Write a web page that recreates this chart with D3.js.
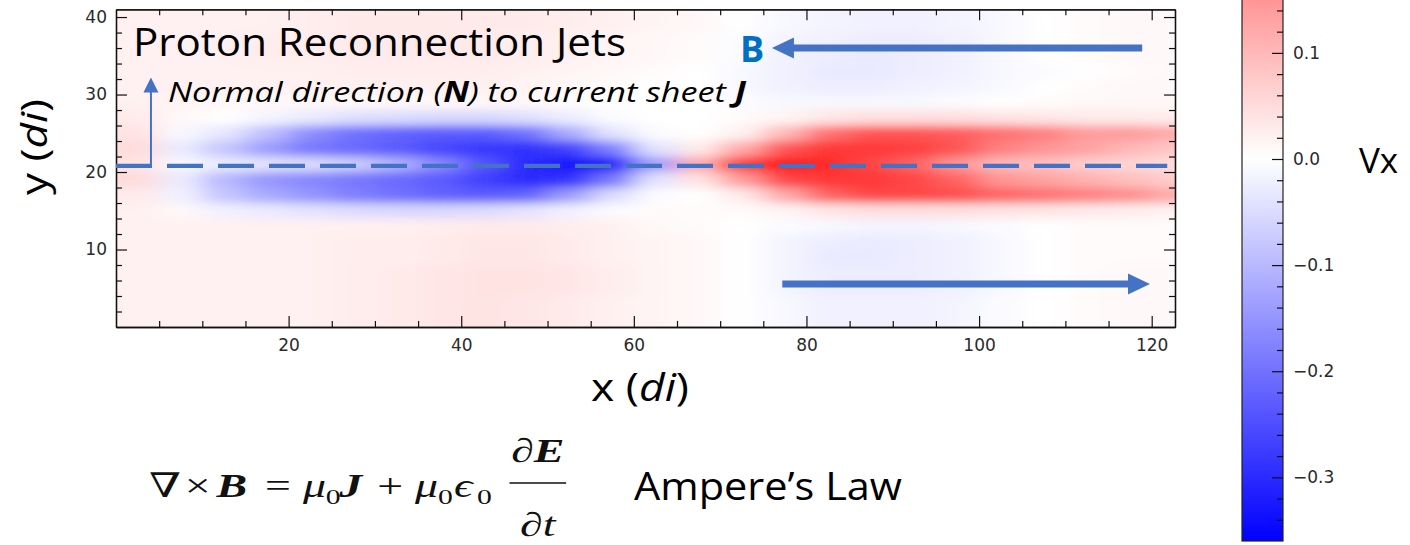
<!DOCTYPE html>
<html>
<head>
<meta charset="utf-8">
<script src="https://cdn.jsdelivr.net/npm/d3@7"></script>
<style>
  body { margin: 0; background: #fff; }
  svg { display: block; }
</style>
</head>
<body>
<div id="chart"></div>
<script>
// Vx field on a coarse grid (di units), top row first
const xCells = [2.5, 7.5, 12.5, 17.5, 22.5, 27.5, 32.5, 37.5, 42.5, 47.5, 52.5, 57.5, 62.5,
  67.5, 72.5, 77.5, 82.5, 87.5, 92.5, 97.5, 102.5, 107.5, 112.5, 117.5, 122.5];
const yCells = [41, 39, 37, 35, 33, 31, 29, 27, 25, 23, 21, 19, 17, 15, 13, 11, 9, 7, 5, 3, 1];
const cellW = 5, cellH = 2;

const vxRows = [
  [.02, .02, .02, .02, .025, .03, .03, .03, .03, .03, .025, .02, .015, .01, 0, -.01, -.015, -.02, -.02, -.015, -.01, 0, .005, .01, .01],
  [.02, .02, .02, .02, .025, .03, .03, .03, .03, .03, .025, .02, .015, .01, 0, -.01, -.015, -.02, -.02, -.015, -.01, 0, .005, .01, .01],
  [.02, .02, .02, .025, .025, .03, .03, .03, .03, .025, .02, .015, .01, .005, -.005, -.015, -.02, -.025, -.025, -.02, -.01, 0, .005, .01, .01],
  [.02, .02, .02, .025, .025, .03, .03, .03, .03, .025, .02, .015, .01, .005, -.005, -.02, -.025, -.03, -.025, -.02, -.01, 0, .005, .01, .01],
  [.02, .02, .02, .02, .02, .025, .025, .025, .025, .02, .015, .01, .005, 0, -.01, -.02, -.03, -.03, -.025, -.02, -.01, -.005, 0, .005, .01],
  [.02, .02, .02, .02, .02, .02, .02, .02, .02, .015, .01, .005, 0, 0, -.01, -.02, -.025, -.025, -.02, -.015, -.01, 0, .005, .01, .01],
  [.02, .015, .01, .01, .01, .01, .01, .01, .01, .01, .005, 0, 0, 0, -.005, -.01, -.01, -.01, -.01, -.005, 0, .005, .01, .01, .01],
  [.03, .01, 0, -.015, -.03, -.045, -.05, -.055, -.055, -.045, -.025, -.005, 0, 0, .005, .015, .035, .045, .045, .045, .04, .035, .03, .03, .025],
  [.04, -.01, -.035, -.09, -.16, -.2, -.22, -.23, -.23, -.2, -.12, -.04, -.005, 0, .02, .1, .2, .24, .24, .23, .2, .18, .14, .14, .12],
  [.05, -.03, -.08, -.14, -.19, -.21, -.23, -.26, -.28, -.29, -.27, -.18, -.04, .03, .12, .24, .28, .28, .27, .24, .18, .15, .13, .1, .08],
  [.04, -.01, -.03, -.04, -.05, -.07, -.11, -.17, -.24, -.3, -.33, -.33, -.14, .12, .28, .32, .3, .26, .22, .15, .1, .09, .07, .06, .05],
  [.05, -.03, -.1, -.15, -.17, -.19, -.21, -.23, -.27, -.3, -.29, -.19, -.04, .04, .14, .26, .28, .28, .26, .22, .15, .13, .11, .09, .07],
  [.03, -.02, -.08, -.12, -.15, -.18, -.2, -.22, -.23, -.22, -.14, -.05, -.005, 0, .03, .12, .22, .26, .26, .25, .22, .2, .18, .16, .12],
  [.02, .01, -.02, -.03, -.04, -.05, -.055, -.055, -.05, -.04, -.02, -.005, .005, .005, .005, .015, .035, .045, .045, .045, .04, .035, .03, .025, .02],
  [.02, .02, .02, .02, .02, .02, .02, .025, .03, .03, .025, .02, .01, .005, 0, -.005, -.01, -.015, -.015, -.01, -.005, 0, .005, .005, .005],
  [.02, .02, .02, .02, .02, .025, .025, .03, .035, .035, .03, .02, .015, .01, 0, -.015, -.025, -.03, -.025, -.02, -.01, 0, .005, .005, .005],
  [.02, .02, .02, .02, .02, .025, .025, .03, .035, .035, .03, .02, .015, .01, 0, -.015, -.03, -.03, -.025, -.02, -.01, 0, .005, .005, .005],
  [.02, .02, .02, .02, .02, .025, .03, .035, .04, .04, .035, .025, .015, .01, 0, -.015, -.025, -.025, -.025, -.02, -.01, 0, .005, .01, .01],
  [.02, .02, .02, .02, .02, .025, .03, .035, .04, .04, .035, .025, .015, .01, 0, -.015, -.025, -.025, -.025, -.02, -.01, 0, .005, .01, .01],
  [.02, .02, .02, .02, .02, .025, .03, .035, .04, .035, .03, .02, .015, .01, 0, -.01, -.02, -.02, -.02, -.015, -.005, 0, .005, .01, .01],
  [.02, .02, .02, .02, .02, .025, .03, .035, .04, .035, .03, .02, .015, .01, 0, -.01, -.02, -.02, -.02, -.015, -.005, 0, .005, .01, .01]
];

const xTicks = [20, 40, 60, 80, 100, 120];
const yTicks = [10, 20, 30, 40];
const cbarTicks = [-0.3, -0.2, -0.1, 0.0, 0.1];

// annotation anchors in data units (di)
const sheetY = 20.8, sheetEnd = 121.8;
const normalX = 4.05, normalTop = 32.2;
const bArrow = { y: 36.0, from: 118.9, to: 76.0 };
const lowArrow = { y: 5.54, from: 77.2, to: 119.8 };

const width = 1410, height = 545;
const plot = { left: 116, right: 1175, top: 9.3, bottom: 327 };
const blue = "#4472C4";
const serif = "'Liberation Serif', 'DejaVu Serif', serif";

const x = d3.scaleLinear().domain([0, 122.7]).range([plot.left, plot.right]);
const y = d3.scaleLinear().domain([0, 41]).range([plot.bottom, plot.top]);
const vxColor = d3.scaleLinear().domain([-0.36, 0, 0.36])
  .range(["#0000ff", "#ffffff", "#ff0000"]).clamp(true);
const cbar = d3.scaleLinear().domain([-0.36, 0.36]).range([541, -223]);

const svg = d3.select("#chart").append("svg")
  .attr("width", width)
  .attr("height", height)
  .style("font-family", "'Open Sans', sans-serif");

svg.append("rect").attr("width", width).attr("height", height).attr("fill", "#fff");

const defs = svg.append("defs");
defs.append("clipPath").attr("id", "plotClip").append("rect")
  .attr("x", plot.left).attr("y", plot.top)
  .attr("width", plot.right - plot.left).attr("height", plot.bottom - plot.top);

defs.append("filter").attr("id", "smooth")
  .attr("filterUnits", "userSpaceOnUse")
  .attr("x", 0).attr("y", -100).attr("width", width).attr("height", 600)
  .append("feGaussianBlur").attr("stdDeviation", "14 5");

// Heat map cells (edge cells pushed past the frame so the blur does not fade)
const cells = [];
vxRows.forEach((row, j) => row.forEach((v, i) => cells.push({ xc: xCells[i], yc: yCells[j], v, i, j })));
const lastI = xCells.length - 1, lastJ = yCells.length - 1;

svg.append("g").attr("clip-path", "url(#plotClip)")
  .append("g").attr("filter", "url(#smooth)")
  .selectAll("rect").data(cells).join("rect")
  .attr("x", d => x(d.xc - cellW / 2) - (d.i === 0 ? 40 : 0))
  .attr("width", d => x(d.xc + cellW / 2) - x(d.xc - cellW / 2) + 0.6 + (d.i === 0 || d.i === lastI ? 40 : 0))
  .attr("y", d => y(d.yc + cellH / 2) - (d.j === 0 ? 40 : 0))
  .attr("height", d => y(d.yc - cellH / 2) - y(d.yc + cellH / 2) + 0.6 + (d.j === 0 || d.j === lastJ ? 40 : 0))
  .attr("fill", d => vxColor(d.v));

// Axes with inward ticks on all four sides
const xMinor = d3.range(5, 123, 5).filter(v => !xTicks.includes(v));
const yMinor = d3.range(2, 41, 2).filter(v => !yTicks.includes(v));

function drawAxis(axis, tx, ty) {
  const g = svg.append("g")
    .attr("transform", `translate(${tx},${ty})`).call(axis)
    .attr("font-family", "'DejaVu Sans', sans-serif")
    .attr("font-size", 17);
  g.select(".domain").attr("stroke", "#111").attr("stroke-width", 1.3);
  g.selectAll(".tick line").attr("stroke", "#111").attr("stroke-width", 1.2);
  g.selectAll(".tick text").attr("fill", "#2a2a2a");
  return g;
}

drawAxis(d3.axisBottom(x).tickValues(xTicks).tickSize(-11).tickSizeOuter(0).tickPadding(12), 0, plot.bottom);
drawAxis(d3.axisBottom(x).tickValues(xMinor).tickSize(-6).tickSizeOuter(0).tickFormat(""), 0, plot.bottom);
drawAxis(d3.axisTop(x).tickValues(xTicks).tickSize(-11).tickSizeOuter(0).tickFormat(""), 0, plot.top);
drawAxis(d3.axisTop(x).tickValues(xMinor).tickSize(-6).tickSizeOuter(0).tickFormat(""), 0, plot.top);
drawAxis(d3.axisLeft(y).tickValues(yTicks).tickSize(-11).tickSizeOuter(0).tickPadding(9), plot.left, 0);
drawAxis(d3.axisLeft(y).tickValues(yMinor).tickSize(-6).tickSizeOuter(0).tickFormat(""), plot.left, 0);
drawAxis(d3.axisRight(y).tickValues(yTicks).tickSize(-11).tickSizeOuter(0).tickFormat(""), plot.right, 0);
drawAxis(d3.axisRight(y).tickValues(yMinor).tickSize(-6).tickSizeOuter(0).tickFormat(""), plot.right, 0);

// Current sheet (dashed) and normal direction arrow
svg.append("line")
  .attr("x1", x(0)).attr("x2", x(sheetEnd))
  .attr("y1", y(sheetY)).attr("y2", y(sheetY))
  .attr("stroke", blue).attr("stroke-width", 4.2)
  .attr("stroke-dasharray", "36 15");

svg.append("line")
  .attr("x1", x(normalX)).attr("x2", x(normalX))
  .attr("y1", y(sheetY)).attr("y2", y(normalTop) + 14)
  .attr("stroke", blue).attr("stroke-width", 2);
svg.append("path")
  .attr("d", `M${x(normalX)},${y(normalTop)} l7.5,15 h-15 Z`)
  .attr("fill", blue);

// Magnetic field arrows
function fieldArrow(a) {
  const dir = a.to > a.from ? 1 : -1;
  const tip = x(a.to), yy = y(a.y);
  svg.append("line")
    .attr("x1", x(a.from)).attr("x2", tip - dir * 20)
    .attr("y1", yy).attr("y2", yy)
    .attr("stroke", blue).attr("stroke-width", 7);
  svg.append("path")
    .attr("d", `M${tip},${yy} L${tip - dir * 22},${yy - 10.5} L${tip - dir * 22},${yy + 10.5} Z`)
    .attr("fill", blue);
}
fieldArrow(bArrow);
fieldArrow(lowArrow);

// Plot annotations
svg.append("text")
  .attr("x", 133).attr("y", 56)
  .attr("font-size", 39)
  .attr("textLength", 493).attr("lengthAdjust", "spacingAndGlyphs")
  .text("Proton Reconnection Jets");

const normal = svg.append("text")
  .attr("x", 168).attr("y", 102)
  .attr("font-size", 28).attr("font-style", "italic")
  .attr("textLength", 578).attr("lengthAdjust", "spacingAndGlyphs");
normal.append("tspan").text("Normal direction (");
normal.append("tspan").attr("font-weight", "bold").text("N");
normal.append("tspan").text(") to current sheet ");
normal.append("tspan").attr("font-weight", "bold").text("J");

svg.append("text")
  .attr("x", 740).attr("y", 62)
  .attr("font-size", 36).attr("font-weight", "bold")
  .attr("fill", "#0070C0")
  .text("B");

// Axis titles
const xTitle = svg.append("text")
  .attr("x", 640).attr("y", 401)
  .attr("text-anchor", "middle")
  .attr("font-size", 38)
  .attr("textLength", 98).attr("lengthAdjust", "spacingAndGlyphs");
xTitle.append("tspan").text("x (");
xTitle.append("tspan").attr("font-style", "italic").text("di");
xTitle.append("tspan").text(")");

const yTitle = svg.append("text")
  .attr("transform", "translate(47,147) rotate(-90)")
  .attr("text-anchor", "middle")
  .attr("font-size", 37)
  .attr("textLength", 96).attr("lengthAdjust", "spacingAndGlyphs");
yTitle.append("tspan").text("y (");
yTitle.append("tspan").attr("font-style", "italic").text("di");
yTitle.append("tspan").text(")");

// Colorbar
const grad = defs.append("linearGradient").attr("id", "bwr")
  .attr("gradientUnits", "userSpaceOnUse")
  .attr("x1", 0).attr("x2", 0)
  .attr("y1", cbar(-0.36)).attr("y2", cbar(0.36));
[-0.36, 0, 0.36].forEach(v => {
  grad.append("stop")
    .attr("offset", (v + 0.36) / 0.72)
    .attr("stop-color", vxColor(v));
});

const cbLeft = 1242, cbRight = 1283;
svg.append("rect")
  .attr("x", cbLeft).attr("y", cbar(0.36))
  .attr("width", cbRight - cbLeft).attr("height", cbar(-0.36) - cbar(0.36))
  .attr("fill", "url(#bwr)")
  .attr("stroke", "#222").attr("stroke-width", 1.2);

const cbMinor = d3.range(-0.34, 0.16, 0.02).map(v => +v.toFixed(2))
  .filter(v => !cbarTicks.some(t => Math.abs(t - v) < 1e-6));
drawAxis(d3.axisRight(cbar).tickValues(cbarTicks).tickSize(-11).tickSizeOuter(0)
  .tickPadding(10).tickFormat(d3.format(".1f")), cbRight, 0)
  .select(".domain").remove();
drawAxis(d3.axisRight(cbar).tickValues(cbMinor).tickSize(-6).tickSizeOuter(0).tickFormat(""), cbRight, 0)
  .select(".domain").remove();

svg.append("text")
  .attr("x", 1359).attr("y", 173)
  .attr("font-size", 35)
  .text("Vx");

// Ampere's law: symbols placed one by one, the pasted formula is stretched sideways
const eqScale = 1.35;
const eqG = svg.append("g").attr("transform", `translate(149,0) scale(${eqScale},1)`)
  .attr("font-family", serif)
  .attr("fill", "#111");
const eq = eqG.append("text").attr("y", 497).attr("font-size", 34);
const sub = 22, drop = 7;
eq.append("tspan").attr("x", 0).attr("font-style", "italic").text("\u2207");
eq.append("tspan").attr("x", 26.5).text("\u00d7");
eq.append("tspan").attr("x", 50).attr("font-weight", "bold").attr("font-style", "italic").text("B");
eq.append("tspan").attr("x", 86).text("=");
eq.append("tspan").attr("x", 114).attr("font-style", "italic").text("\u03bc");
eq.append("tspan").attr("x", 131).attr("font-size", sub).attr("dy", drop).text("0");
eq.append("tspan").attr("x", 141).attr("dy", -drop).attr("font-weight", "bold").attr("font-style", "italic").text("J");
eq.append("tspan").attr("x", 169).text("+");
eq.append("tspan").attr("x", 197).attr("font-style", "italic").text("\u03bc");
eq.append("tspan").attr("x", 214).attr("font-size", sub).attr("dy", drop).text("0");
eq.append("tspan").attr("x", 226).attr("dy", -drop).attr("font-style", "italic").text("\u03f5");
eq.append("tspan").attr("x", 243).attr("font-size", sub).attr("dy", drop).text("0");

const fracX = 288;
const num = eqG.append("text")
  .attr("x", fracX).attr("y", 462)
  .attr("text-anchor", "middle")
  .attr("font-size", 34);
num.append("tspan").attr("font-style", "italic").text("\u2202");
num.append("tspan").attr("font-weight", "bold").attr("font-style", "italic").text("E");

eqG.append("line")
  .attr("x1", 267).attr("x2", 309)
  .attr("y1", 483).attr("y2", 483)
  .attr("stroke", "#111").attr("stroke-width", 1.5);

eqG.append("text")
  .attr("x", fracX).attr("y", 536)
  .attr("text-anchor", "middle")
  .attr("font-size", 34).attr("font-style", "italic")
  .text("\u2202t");

svg.append("text")
  .attr("x", 634).attr("y", 500)
  .attr("font-size", 39)
  .attr("textLength", 268).attr("lengthAdjust", "spacingAndGlyphs")
  .text("Ampere\u2019s Law");
</script>
</body>
</html>
